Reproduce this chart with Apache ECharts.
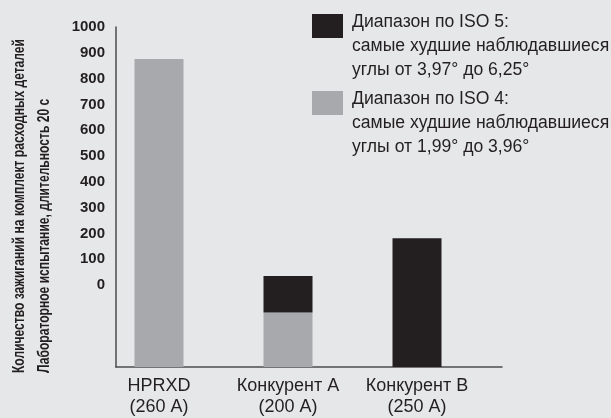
<!DOCTYPE html>
<html>
<head>
<meta charset="utf-8">
<script src="https://cdn.jsdelivr.net/npm/echarts@6/dist/echarts.min.js"></script>
<style>
  html, body { margin: 0; padding: 0; background: #e6e7e8; }
  #chart { width: 611px; height: 418px; }
</style>
</head>
<body>
<div id="chart"></div>
<script>
// категории и значения (высота от нижней оси)
const categories = ['HPRXD', 'Конкурент A', 'Конкурент B'];
const currents = ['(260 A)', '(200 A)', '(250 A)'];
const iso4Values = [906, 160, 0];   // серые
const iso5Values = [0, 108, 379];   // черные
const yTickLabels = [0, 100, 200, 300, 400, 500, 600, 700, 800, 900, 1000];

const iso5Name = 'Диапазон по ISO 5:\nсамые худшие наблюдавшиеся\nуглы от 3,97° до 6,25°';
const iso4Name = 'Диапазон по ISO 4:\nсамые худшие наблюдавшиеся\nуглы от 1,99° до 3,96°';

const textColor = '#231f20';
const axisColor = '#4d4d4f';
const font = 'Liberation Sans, Arial, sans-serif';

const chart = echarts.init(document.getElementById('chart'));

// текст легенды: первая строка ниже центра значка
function legendFormatter(name) {
  return '{pad| }\n' + name.split('\n').map(s => '{t|' + s + '}').join('\n');
}
const legendText = {
  rich: {
    pad: { fontSize: 10, lineHeight: 40 },
    t: { color: textColor, fontFamily: font, fontSize: 17.6, lineHeight: 24, padding: [0, 0, 0, 4] }
  }
};

const option = {
  backgroundColor: '#e6e7e8',
  animation: false,
  grid: [
    // сетка для столбцов
    { left: 94.5, right: 129.5, top: 27, bottom: 51, outerBoundsMode: 'none' },
    // сетка для осей
    { left: 116, right: 109, top: 27, bottom: 51, outerBoundsMode: 'none' }
  ],
  legend: [
    {
      data: [iso5Name],
      left: 312,
      top: -15,
      padding: 0,
      icon: 'rect',
      itemWidth: 31,
      itemHeight: 24,
      selectedMode: false,
      formatter: legendFormatter,
      textStyle: legendText
    },
    {
      data: [iso4Name],
      left: 312,
      top: 62,
      padding: 0,
      icon: 'rect',
      itemWidth: 31,
      itemHeight: 24,
      selectedMode: false,
      formatter: legendFormatter,
      textStyle: legendText
    }
  ],
  xAxis: [
    {
      type: 'category',
      gridIndex: 0,
      data: categories,
      axisLine: { show: false },
      axisTick: { show: false },
      axisLabel: {
        interval: 0,
        formatter: (v, i) => v + '\n' + currents[i],
        color: textColor,
        fontFamily: font,
        fontSize: 18,
        lineHeight: 21,
        margin: 9
      }
    },
    {
      type: 'value',
      gridIndex: 1,
      min: 0,
      max: 1,
      axisLine: { show: true, onZero: false, lineStyle: { color: axisColor, width: 1.5 } },
      axisTick: { show: false },
      axisLabel: { show: false },
      splitLine: { show: false }
    }
  ],
  yAxis: [
    {
      // ось данных: 0 у нижней линии
      type: 'value',
      gridIndex: 0,
      min: 0,
      max: 1000,
      show: false
    },
    {
      // ось подписей, как на оригинале
      type: 'value',
      gridIndex: 1,
      min: -318,
      max: 1000,
      axisLine: { show: true, onZero: false, lineStyle: { color: axisColor, width: 1.5 } },
      axisTick: { show: false },
      splitLine: { show: false },
      axisLabel: {
        customValues: yTickLabels,
        formatter: v => String(v),
        color: textColor,
        fontFamily: font,
        fontWeight: 'bold',
        fontSize: 15,
        margin: 11
      }
    }
  ],
  graphic: [
    {
      type: 'text',
      x: 7,
      y: 373,
      rotation: Math.PI / 2,
      scaleX: 0.755,
      style: {
        text: 'Количество зажиганий на комплект расходных деталей\nЛабораторное испытание, длительность 20 с',
        fill: textColor,
        font: 'bold 16px "Liberation Sans", Arial, sans-serif',
        lineHeight: 25,
        textAlign: 'left',
        textVerticalAlign: 'top'
      }
    }
  ],
  series: [
    {
      name: iso4Name,
      type: 'bar',
      stack: 'total',
      xAxisIndex: 0,
      yAxisIndex: 0,
      barWidth: 49,
      itemStyle: { color: '#a7a9ac' },
      data: iso4Values
    },
    {
      name: iso5Name,
      type: 'bar',
      stack: 'total',
      xAxisIndex: 0,
      yAxisIndex: 0,
      barWidth: 49,
      itemStyle: { color: '#231f20' },
      data: iso5Values
    }
  ]
};

chart.setOption(option);
</script>
</body>
</html>
